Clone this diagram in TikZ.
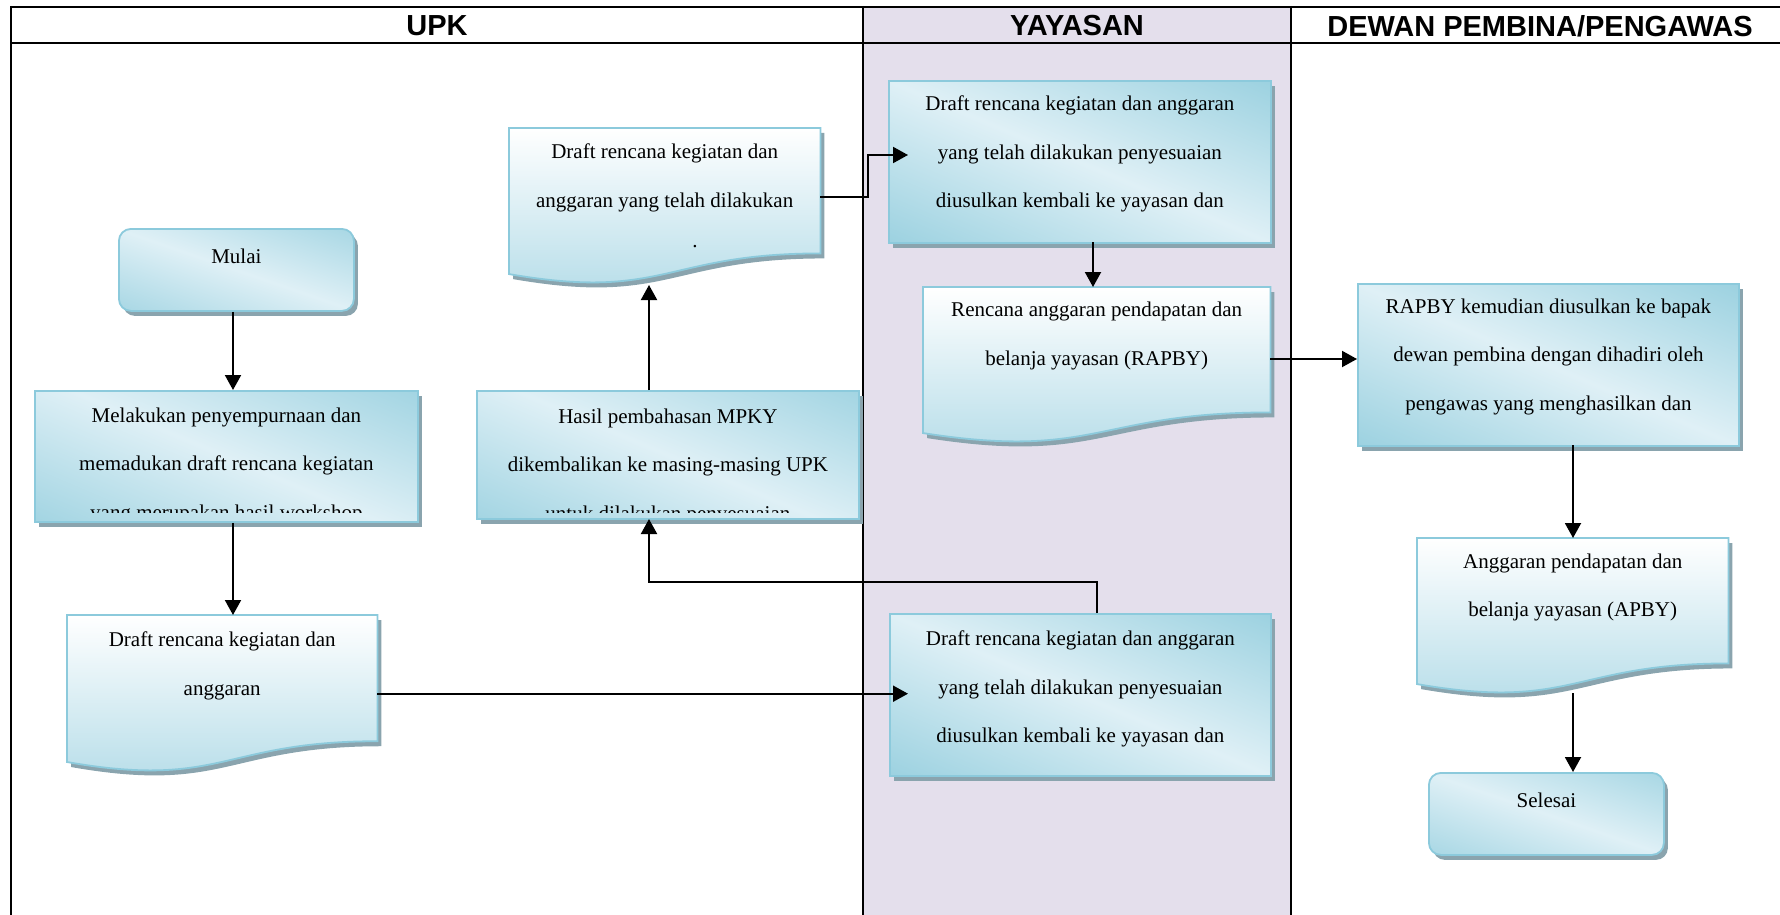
\documentclass[tikz,border=0pt]{standalone}
\usepackage{fontspec}
\setmainfont{Liberation Serif}
\newfontfamily\headfam{Liberation Sans}
\usetikzlibrary{arrows.meta,calc,shadows}
\newcommand\bodyfont{\fontsize{21}{48.7}\selectfont}
\newcommand\headfont{\headfam\bfseries\fontsize{29}{32}\selectfont}
\definecolor{lav}{RGB}{228,223,236}
\definecolor{bordc}{RGB}{140,202,220}
\definecolor{gdark}{RGB}{146,205,221}
\definecolor{glight}{RGB}{223,240,246}
\definecolor{gdoc}{RGB}{180,220,232}
\definecolor{shadc}{RGB}{138,164,174}
\pgfdeclareverticalshading{diagblue}{100bp}{color(0bp)=(gdark); color(29bp)=(gdark); color(50bp)=(glight); color(71bp)=(gdark); color(100bp)=(gdark)}
\newcommand\docshape[1]{%
  \path[docfill] (#1.north west) -- (#1.north east)
   -- ($(#1.north east)!.802!(#1.south east)$)
   .. controls ($(#1.north)!.802!(#1.south)$) and ($(#1.north)!1.1075!(#1.south)$)
   .. ($(#1.north west)!.934!(#1.south west)$) -- cycle;}
\tikzset{
  myshadow/.style={drop shadow={shadow xshift=4pt,shadow yshift=-5pt,fill=shadc,opacity=1}},
  diagfill/.style 2 args={path picture={
     \shade[shading=diagblue, shading angle=#1]
       ($(path picture bounding box.center)+(-#2,-#2)$) rectangle ($(path picture bounding box.center)+(#2,#2)$);}},
  box/.style={rectangle, draw=bordc, line width=1.8pt, fill=gdark, diagfill={-23}{205},
     myshadow, inner sep=0pt, anchor=north west},
  rbox/.style={rectangle, draw=bordc, line width=1.8pt, fill=gdark, diagfill={-19}{128},
     myshadow, inner sep=0pt, anchor=north west, rounded corners=12pt},
  docnode/.style={rectangle, draw=none, inner sep=0pt, anchor=north west},
  docfill/.style={draw=bordc, line width=1.8pt, top color=white, bottom color=gdoc, myshadow},
  txt/.style={font=\bodyfont, align=center, inner sep=0pt, anchor=north, text=black},
  arr/.style={line width=2pt, -{Triangle[length=15pt,width=16pt]}},
  ln/.style={line width=2pt},
  head/.style={font=\headfont, anchor=center, inner sep=0pt}
}
\begin{document}
\begin{tikzpicture}[x=1pt,y=-1pt]
\useasboundingbox (0,0) rectangle (1780,915);
% lanes
\fill[lav] (863,7) rectangle (1291,915);
\draw[ln] (11,7) -- (1780,7);
\draw[ln] (11,43) -- (1780,43);
\draw[ln] (11,6) -- (11,915);
\draw[ln] (863,6) -- (863,915);
\draw[ln] (1291,6) -- (1291,915);
\node[head] (hupk) at (437,26) {UPK};
\node[head] (hyay) at (1077,26) {YAYASAN};
\node[head] (hdew) at (1540,26) {DEWAN PEMBINA/PENGAWAS};

% boxes
\node[rbox, minimum width=235pt, minimum height=82pt] (mulai) at (118,228) {};
\node[box, minimum width=383pt, minimum height=131pt] (mel) at (34,390) {};
\node[box, minimum width=382pt, minimum height=128pt] (hasil) at (476,390) {};
\node[box, minimum width=382pt, minimum height=162pt] (yt) at (888,80) {};
\node[box, minimum width=381pt, minimum height=162pt] (yb) at (889,613) {};
\node[box, minimum width=381pt, minimum height=162pt] (rapby) at (1357,283) {};
\node[rbox, minimum width=235pt, minimum height=82pt] (selesai) at (1428,772) {};
\node[docnode, minimum width=311pt, minimum height=156pt] (d5) at (509,128) {};
\node[docnode, minimum width=310pt, minimum height=157pt] (d3) at (67,615) {};
\node[docnode, minimum width=347pt, minimum height=156pt] (d7) at (923,287) {};
\node[docnode, minimum width=311pt, minimum height=156pt] (d10) at (1417,538) {};
\docshape{d5}
\docshape{d3}
\docshape{d7}
\docshape{d10}

% texts
\node[txt] (tmulai) at ($(mulai.north)+(0,20.5)$) {Mulai};
\begin{scope}
\clip (mel.north west) rectangle ($(mel.south east)+(0,-10)$);
\node[txt] (tmel) at ($(mel.north)+(0,17.5)$) {Melakukan penyempurnaan dan\\memadukan draft rencana kegiatan\\yang merupakan hasil workshop};
\end{scope}
\begin{scope}
\clip (hasil.north west) rectangle ($(hasil.south east)+(0,-7)$);
\node[txt] (thasil) at ($(hasil.north)+(0,18.5)$) {Hasil pembahasan MPKY\\dikembalikan ke masing-masing UPK\\untuk dilakukan penyesuaian};
\end{scope}
\node[txt] (td5) at ($(d5.north)+(0,15.5)$) {Draft rencana kegiatan dan\\anggaran yang telah dilakukan};
\node[font=\bodyfont, inner sep=0pt, anchor=base] (dot5) at (695,247) {.};
\node[txt] (td3) at ($(d3.north)+(0,17)$) {Draft rencana kegiatan dan\\anggaran};
\node[txt] (tyt) at ($(yt.north)+(0,15.5)$) {Draft rencana kegiatan dan anggaran\\yang telah dilakukan penyesuaian\\diusulkan kembali ke yayasan dan};
\node[txt] (td7) at ($(d7.north)+(0,15)$) {Rencana anggaran pendapatan dan\\belanja yayasan (RAPBY)};
\node[txt] (tyb) at ($(yb.north)+(0,17.5)$) {Draft rencana kegiatan dan anggaran\\yang telah dilakukan penyesuaian\\diusulkan kembali ke yayasan dan};
\node[txt] (trapby) at ($(rapby.north)+(0,15.5)$) {RAPBY kemudian diusulkan ke bapak\\dewan pembina dengan dihadiri oleh\\pengawas yang menghasilkan dan};
\node[txt] (td10) at ($(d10.north)+(0,15.5)$) {Anggaran pendapatan dan\\belanja yayasan (APBY)};
\node[txt] (tselesai) at ($(selesai.north)+(0,20.5)$) {Selesai};

% connector helper coordinates
\coordinate (cx) at (233,0);
\coordinate (e3) at ($(yb.west |- d3.east)+(19,0)$);
\coordinate (ybup) at (1097,613);
\coordinate (bend) at (1097,582);
\coordinate (hx) at (649,519);
\coordinate (d5tip) at (649,285);
\coordinate (d5out) at ($(d5.north east)!0.44!(d5.south east)$);
\coordinate (j2) at (868,155);
\coordinate (e5) at (908,155);
\coordinate (y7) at (1093,242);
\coordinate (d7o) at (1270,359);
\coordinate (r9) at (1573,445);
\coordinate (d10o) at (1573,693);

% connectors
\draw[arr] (mulai.south -| cx) -- (cx |- mel.north);
\draw[arr] (mel.south -| cx) -- (cx |- d3.north);
\draw[arr] (d3.east) -- (e3);
\draw[arr] (ybup) -- (bend) -| (hx);
\draw[arr] (hasil.north -| hx) -- (d5tip);
\draw[arr] (d5out) -| (j2) -- (e5);
\draw[arr] (y7) -- (y7 |- d7.north);
\draw[arr] (d7o) -- (d7o -| rapby.west);
\draw[arr] (r9) -- (r9 |- d10.north);
\draw[arr] (d10o) -- (d10o |- selesai.north);
\end{tikzpicture}
\end{document}
